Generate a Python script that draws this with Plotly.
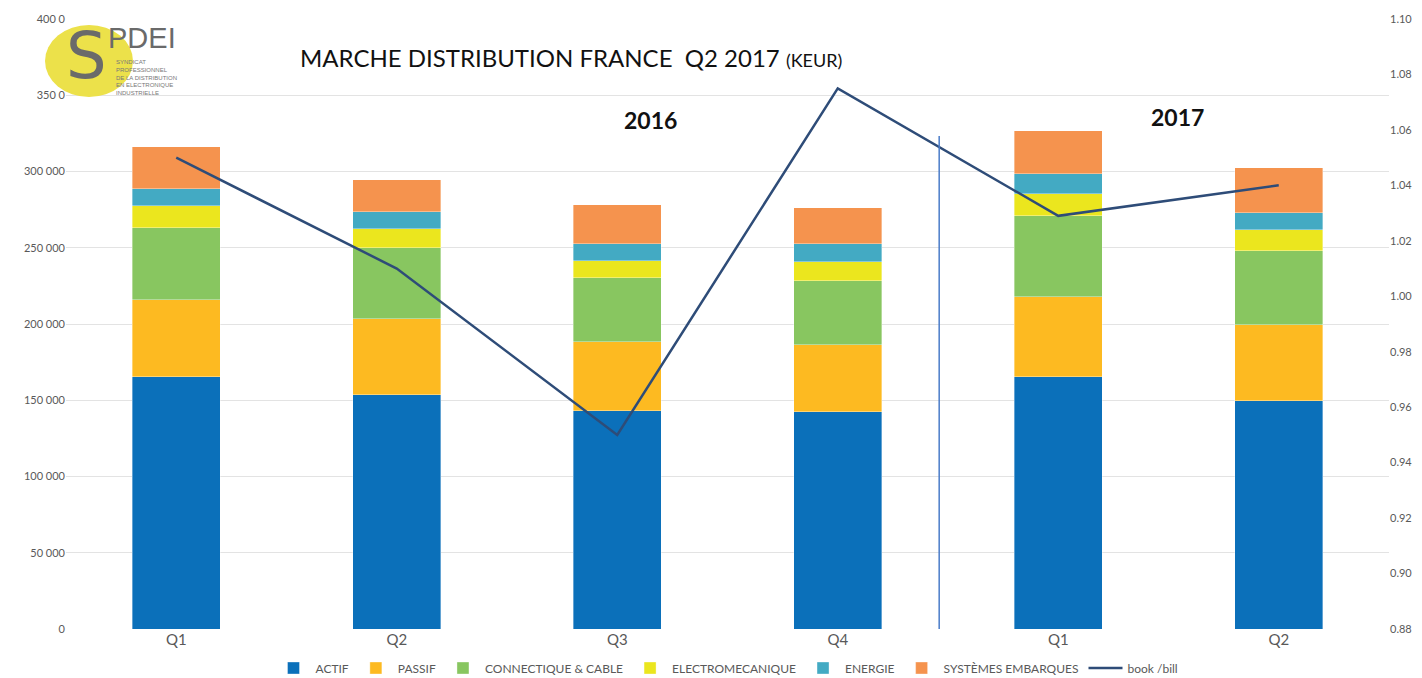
import plotly.graph_objects as go

quarters = ["Q1", "Q2", "Q3", "Q4", "Q1", "Q2"]
actif = [165400, 153500, 143000, 142400, 165400, 149600]
passif = [50500, 49900, 45300, 44000, 52400, 49900]
connectique = [47200, 46600, 42000, 41900, 53200, 48500]
electromecanique = [14500, 12500, 11200, 12500, 14400, 13800]
energie = [11100, 11100, 11100, 11800, 13200, 11200]
systemes = [27600, 21000, 25600, 23600, 28200, 29500]
book_bill = [1.050, 1.010, 0.950, 1.075, 1.029, 1.040]

y_tickvals = [0, 50000, 100000, 150000, 200000, 250000, 300000, 350000, 400000]
y_ticktext = ["0", "50 000", "100 000", "150 000", "200 000", "250 000", "300 000", "350 0", "400 0"]
y2_tickvals = [0.88, 0.90, 0.92, 0.94, 0.96, 0.98, 1.00, 1.02, 1.04, 1.06, 1.08, 1.10]

series = [
    ("ACTIF", actif, "#0B70BA"),
    ("PASSIF", passif, "#FDBA21"),
    ("CONNECTIQUE & CABLE", connectique, "#88C660"),
    ("ELECTROMECANIQUE", electromecanique, "#EBE61E"),
    ("ENERGIE", energie, "#43AAC3"),
    ("SYSTÈMES EMBARQUES", systemes, "#F5934E"),
]

xs = list(range(len(quarters)))
fig = go.Figure()
for name, vals, col in series:
    fig.add_trace(go.Bar(x=xs, y=vals, name=name,
                         marker=dict(color=col, line=dict(width=0.6, color="rgba(255,255,255,0.6)")),
                         width=0.40))
fig.add_trace(go.Scatter(x=xs, y=book_bill, name="book /bill", mode="lines",
                         line=dict(color="#2E4C78", width=2.5), yaxis="y2"))

grey = "#595959"
W, H = 1414, 670
fig.update_layout(
    barmode="stack",
    width=W, height=H,
    margin=dict(l=58, r=33, t=11, b=49, autoexpand=False),
    plot_bgcolor="white", paper_bgcolor="white",
    font=dict(family="Lato, Open Sans, sans-serif", color=grey, size=12),
    xaxis=dict(range=[-0.5, 5.5], tickvals=xs, ticktext=quarters, showgrid=False, automargin=False,
               tickfont=dict(size=15, color=grey), zeroline=False, showline=False, ticks=""),
    yaxis=dict(range=[0, 400000], tickvals=y_tickvals, ticktext=y_ticktext, automargin=False,
               showgrid=True, gridcolor="#E3E3E3", gridwidth=1, zeroline=False,
               tickfont=dict(size=11, color=grey), ticks="", ticklen=0),
    yaxis2=dict(range=[0.88, 1.10], tickvals=y2_tickvals, tickformat=".2f", overlaying="y", side="right",
                showgrid=False, zeroline=False, automargin=False, tickfont=dict(size=11, color=grey)),
    legend=dict(orientation="h", x=0.5, xanchor="center", yref="container", y=(H - 660) / H,
                yanchor="middle", font=dict(size=12, color=grey), traceorder="normal", itemwidth=34),
    showlegend=True,
)

def px(x):
    return (x - 66) / 1323.0

def py(y):
    return (629 - y) / 610.0

shapes = [
    dict(type="line", xref="x", yref="paper", x0=3.46, x1=3.46, y0=0, y1=py(136),
         line=dict(color="#4A7CC9", width=1.5)),
    dict(type="circle", xref="paper", yref="paper", x0=px(45), x1=px(133), y0=py(97), y1=py(25),
         fillcolor="#ECE14A", line=dict(width=0), layer="above"),
]
fig.update_layout(shapes=shapes)

ann = [
    dict(x=px(298), y=py(58), xref="paper", yref="paper", xanchor="left", yanchor="middle",
         text="MARCHE DISTRIBUTION FRANCE&nbsp;&nbsp;Q2 2017 <span style='font-size:18px'>(KEUR)</span>",
         showarrow=False, font=dict(size=24, color="#111111", family="Lato, Open Sans, sans-serif")),
    dict(x=px(650), y=py(120), xref="paper", yref="paper", xanchor="center", yanchor="middle",
         text="<b>2016</b>", showarrow=False, font=dict(size=23, color="#111111", family="Lato, Open Sans, sans-serif")),
    dict(x=px(1177), y=py(117), xref="paper", yref="paper", xanchor="center", yanchor="middle",
         text="<b>2017</b>", showarrow=False, font=dict(size=23, color="#111111", family="Lato, Open Sans, sans-serif")),
    dict(x=px(86), y=py(56), xref="paper", yref="paper", xanchor="center", yanchor="middle",
         text="S", showarrow=False, font=dict(size=64, color="#6A6A6A", family="DejaVu Sans, sans-serif")),
    dict(x=px(106), y=py(38), xref="paper", yref="paper", xanchor="left", yanchor="middle",
         text="PDEI", showarrow=False, font=dict(size=29, color="#6A6A6A", family="Liberation Sans, sans-serif")),
    dict(x=px(114), y=py(77), xref="paper", yref="paper", xanchor="left", yanchor="middle", align="left",
         text="SYNDICAT<br>PROFESSIONNEL<br>DE LA DISTRIBUTION<br>EN ELECTRONIQUE<br>INDUSTRIELLE",
         showarrow=False, font=dict(size=6, color="#777777", family="Liberation Sans, sans-serif")),
]
fig.update_layout(annotations=ann)

fig.write_html("out.html")
